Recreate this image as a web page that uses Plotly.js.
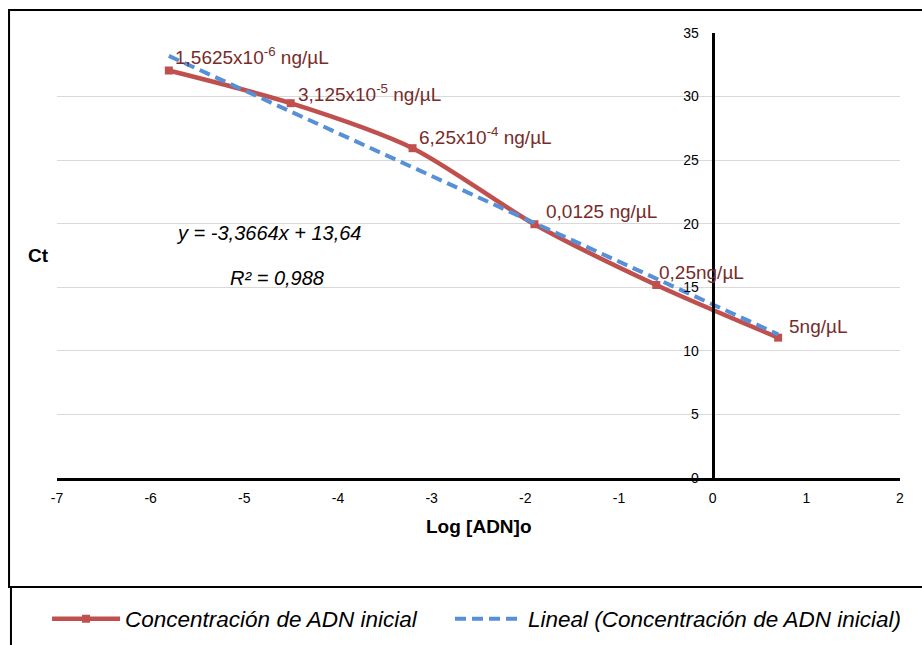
<!DOCTYPE html>
<html>
<head>
<meta charset="utf-8">
<script src="https://cdn.plot.ly/plotly-3.0.1.min.js"></script>
<style>html,body{margin:0;padding:0;background:#fff;}#chart{width:922px;height:645px;}</style>
</head>
<body>
<div id="chart"></div>
<script>
// ---- data ----
var logConc = [-5.806, -4.505, -3.204, -1.903, -0.602, 0.699];
var ctValues = [32.05, 29.48, 25.94, 19.96, 15.18, 11.04];
var pointLabels = [
  '1,5625x10<sup>-6</sup> ng/µL',
  '3,125x10<sup>-5</sup> ng/µL',
  '6,25x10<sup>-4</sup> ng/µL',
  '0,0125 ng/µL',
  '0,25ng/µL',
  '5ng/µL'
];
var trendX = [-5.806, 0.699];
var trendY = [33.2, 11.3];
var xTicks = [-7, -6, -5, -4, -3, -2, -1, 0, 1, 2];
var yTicks = [0, 5, 10, 15, 20, 25, 30, 35];
var seriesName = 'Concentración de ADN inicial';
var trendName = 'Lineal (Concentración de ADN inicial)';
var equationText = 'y = -3,3664x + 13,64';
var r2Text = 'R² = 0,988';

// label offsets (px)
var labelDX = [4, 5, 4, 10, 1, 9];
var labelDY = [15, 10, 12, 13, 13, 11];

var FONT = 'Liberation Sans, Arial, sans-serif';
var RED = '#c0504d';
var BLUE = '#5590d9';
var LABEL = '#772c2a';

var traces = [
  {
    x: logConc, y: ctValues, type: 'scatter', mode: 'lines+markers',
    name: seriesName, legend: 'legend',
    line: {color: RED, width: 4.5, shape: 'spline', smoothing: 0.8},
    marker: {symbol: 'square', size: 8, color: RED}
  },
  {
    x: trendX, y: trendY, type: 'scatter', mode: 'lines',
    name: trendName, legend: 'legend2',
    line: {color: BLUE, width: 4, dash: '11px,6px'}
  }
];

var annotations = pointLabels.map(function (t, i) {
  return {
    x: logConc[i], y: ctValues[i], xref: 'x', yref: 'y', text: t,
    showarrow: false, xanchor: 'left', yanchor: 'middle',
    xshift: labelDX[i], yshift: labelDY[i],
    font: {family: FONT, size: 19, color: LABEL}
  };
});
annotations.push(
  {x: 0.2503, y: 0.5506, xref: 'paper', yref: 'paper', text: '<i>' + equationText + '</i>',
   showarrow: false, xanchor: 'center', yanchor: 'middle', font: {family: FONT, size: 20, color: '#000'}},
  {x: 0.261, y: 0.4494, xref: 'paper', yref: 'paper', text: '<i>' + r2Text + '</i>',
   showarrow: false, xanchor: 'center', yanchor: 'middle', font: {family: FONT, size: 20, color: '#000'}},
  {x: -0.0225, y: 0.501, xref: 'paper', yref: 'paper', text: '<b>Ct</b>',
   showarrow: false, xanchor: 'center', yanchor: 'middle', font: {family: FONT, size: 19, color: '#000'}},
  {x: 0.5006, y: -0.110, xref: 'paper', yref: 'paper', text: '<b>Log [ADN]o</b>',
   showarrow: false, xanchor: 'center', yanchor: 'middle', font: {family: FONT, size: 19, color: '#000'}}
);

var legendFont = {family: FONT, size: 22.5, color: '#000', style: 'italic'};

var layout = {
  width: 922, height: 645,
  margin: {l: 57, r: 22, t: 33, b: 167, autoexpand: false},
  paper_bgcolor: '#fff', plot_bgcolor: '#fff',
  font: {family: FONT, color: '#000'},
  xaxis: {
    range: [-7, 2], tickvals: xTicks, ticktext: xTicks.map(String),
    showgrid: false, zeroline: false, showline: true, linecolor: '#000', linewidth: 3,
    ticks: '', tickfont: {family: FONT, size: 14, color: '#000'}, ticklabelstandoff: 5
  },
  yaxis: {
    range: [0, 35], tickvals: yTicks, ticktext: yTicks.map(String),
    anchor: 'free', position: 7 / 9, side: 'left',
    showgrid: true, gridcolor: '#d9d9d9', gridwidth: 1,
    zeroline: false, showline: true, linecolor: '#000', linewidth: 3,
    ticks: '', tickfont: {family: FONT, size: 14, color: '#000'}, ticklabelstandoff: 10
  },
  showlegend: true,
  legend: {
    x: -0.0118, y: -0.3169, xanchor: 'left', yanchor: 'middle', orientation: 'h',
    itemwidth: 68, font: legendFont, bgcolor: 'rgba(0,0,0,0)'
  },
  legend2: {
    x: 0.4662, y: -0.3169, xanchor: 'left', yanchor: 'middle', orientation: 'h',
    itemwidth: 68, font: legendFont, bgcolor: 'rgba(0,0,0,0)'
  },
  annotations: annotations,
  shapes: [
    {type: 'rect', xref: 'paper', yref: 'paper', x0: -0.0569, x1: 1.0356, y0: -0.2449, y1: 1.0517,
     line: {color: '#000', width: 2}, fillcolor: 'rgba(0,0,0,0)', layer: 'below'},
    {type: 'rect', xref: 'paper', yref: 'paper', x0: -0.0546, x1: 1.0356, y0: -0.409, y1: -0.2449,
     line: {color: '#000', width: 2}, fillcolor: 'rgba(0,0,0,0)', layer: 'below'}
  ]
};

Plotly.newPlot('chart', traces, layout, {displayModeBar: false, staticPlot: true});
</script>
</body>
</html>
